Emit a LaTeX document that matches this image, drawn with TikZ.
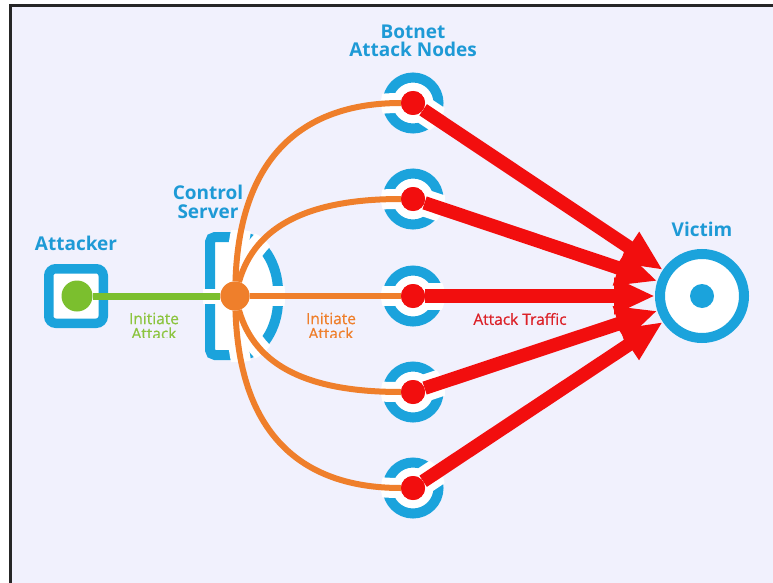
\documentclass[tikz,border=0pt]{standalone}
\usepackage{fontspec}
\setmainfont{Open Sans}
\newfontfamily\labelfont[FakeBold=0.6]{Open Sans}
\usetikzlibrary{arrows.meta}

\definecolor{bg}{HTML}{F1F1FD}
\definecolor{netblue}{HTML}{1BA3DC}
\definecolor{txtblue}{HTML}{1E9AD6}
\definecolor{dotgreen}{HTML}{7BBF2E}
\definecolor{txtgreen}{HTML}{8CC43F}
\definecolor{ctrlorange}{HTML}{EF7F2B}
\definecolor{hitred}{HTML}{F20E0E}
\definecolor{txtred}{HTML}{DC2128}

\tikzset{
  ring/.style={circle, draw=netblue, line width=10pt, fill=white, minimum size=51pt, inner sep=0pt},
  reddot/.style={circle, fill=hitred, minimum size=24pt, inner sep=0pt},
  hubdot/.style={circle, fill=ctrlorange, minimum size=29pt, inner sep=0pt},
  srcdot/.style={circle, fill=dotgreen, minimum size=31pt, inner sep=0pt},
  srcbox/.style={rectangle, rounded corners=7pt, draw=netblue, line width=9.5pt, fill=white, minimum size=54.5pt, inner sep=0pt},
  target/.style={circle, draw=netblue, line width=10pt, fill=white, minimum size=84pt, inner sep=0pt},
  targetcore/.style={circle, fill=netblue, minimum size=24pt, inner sep=0pt},
  link/.style={draw=ctrlorange, line width=6pt},
  linkhalo/.style={draw=white, line width=20pt},
  feed/.style={draw=dotgreen, line width=7pt},
  feedhalo/.style={draw=white, line width=15pt},
  hit/.style={draw=hitred, line width=13.5pt, -{Triangle[length=41pt,width=34pt]}},
  hithalo/.style={draw=white, line width=27pt},
  head/.style={text=txtblue, font=\bfseries\fontsize{19}{18.5}\selectfont, align=center, inner sep=0pt},
  small/.style={font=\labelfont\fontsize{15.5}{15}\selectfont, align=center, inner sep=0pt},
}

\begin{document}
\begin{tikzpicture}[x=1pt, y=-1pt]
  % page, frame and background
  \useasboundingbox (0,0) rectangle (773,583);
  \fill[white] (0,0) rectangle (773,583);
  \fill[bg] (11,6) rectangle (773,583);
  \draw[black!85, line width=2.2pt] (10.5,583) -- (10.5,5.5) -- (773,5.5);

  % positions
  \coordinate (cs) at (235,296);

  % attacker
  \node[srcbox] (abox) at (76,296) {};
  \node[srcdot] (ga) at (77,296) {};

  % control server body
  \path[draw=netblue, line width=10pt, fill=white, rounded corners=5pt]
    (210,237) -- (236,237) .. controls (262,237) and (278,265) .. (278,296)
    .. controls (278,327) and (262,355) .. (236,355) -- (210,355) -- cycle;

  % botnet rings and victim
  \foreach \i/\y in {1/103, 2/199, 3/296, 4/392, 5/488} {
    \node[ring] (r\i) at (413,\y) {};
  }
  \node[target] (vic) at (702,296) {};

  % anchors for the links (drawn later)
  \node[hubdot] (hub) at (cs) {};
  \foreach \i/\y in {1/103, 2/199, 3/296, 4/392, 5/488} {
    \node[reddot] (b\i) at (413,\y) {};
  }

  % cut-outs where the links cross the rings
  \begin{scope}
    \clip (203,230) -- (240,230) .. controls (268,230) and (285,262) .. (285,296)
      .. controls (285,330) and (268,362) .. (240,362) -- (203,362) -- cycle;
    \draw[feedhalo] (ga) -- (hub);
    \draw[linkhalo] (hub) .. controls (240,140) and (320,103) .. (b1);
    \draw[linkhalo] (hub) .. controls (255,225) and (310,199) .. (b2);
    \draw[linkhalo] (hub) -- (b3);
    \draw[linkhalo] (hub) .. controls (255,367) and (310,392) .. (b4);
    \draw[linkhalo] (hub) .. controls (240,452) and (320,488) .. (b5);
  \end{scope}
  \begin{scope}
    \clip (413,103) circle[radius=32];
    \draw[linkhalo] (hub) .. controls (240,140) and (320,103) .. (b1);
    \draw[hithalo] (b1) -- (vic);
  \end{scope}
  \begin{scope}
    \clip (413,199) circle[radius=32];
    \draw[linkhalo] (hub) .. controls (255,225) and (310,199) .. (b2);
    \draw[hithalo] (b2) -- (vic);
  \end{scope}
  \begin{scope}
    \clip (413,296) circle[radius=32];
    \draw[linkhalo] (hub) -- (b3);
    \draw[hithalo] (b3) -- (vic);
  \end{scope}
  \begin{scope}
    \clip (413,392) circle[radius=32];
    \draw[linkhalo] (hub) .. controls (255,367) and (310,392) .. (b4);
    \draw[hithalo] (b4) -- (vic);
  \end{scope}
  \begin{scope}
    \clip (413,488) circle[radius=32];
    \draw[linkhalo] (hub) .. controls (240,452) and (320,488) .. (b5);
    \draw[hithalo] (b5) -- (vic);
  \end{scope}

  % links
  \draw[feed] (ga) -- (hub);
  \draw[link] (hub) .. controls (240,140) and (320,103) .. (b1);
  \draw[link] (hub) .. controls (255,225) and (310,199) .. (b2);
  \draw[link] (hub) -- (b3);
  \draw[link] (hub) .. controls (255,367) and (310,392) .. (b4);
  \draw[link] (hub) .. controls (240,452) and (320,488) .. (b5);

  % attack traffic
  \foreach \i in {1,...,5} {
    \draw[hit] (b\i) -- (vic);
  }

  % dots on top
  \node[hubdot] at (cs) {};
  \foreach \i/\y in {1/103, 2/199, 3/296, 4/392, 5/488} {
    \node[reddot] at (413,\y) {};
  }
  \node[targetcore] (core) at (vic) {};

  % headings
  \node[head] (tBot) at (413,41) {Botnet\\Attack Nodes};
  \node[head] (tCtl) at (208,202) {Control\\Server};
  \node[head] (tAtt) at (76,243) {Attacker};
  \node[head] (tVic) at (702,229) {Victim};

  % link labels, cut off at the bottom
  \begin{scope}
    \clip (100,305) rectangle (380,337);
    \node[small, text=txtgreen] (lGreen) at (154,326) {Initiate\\Attack};
    \node[small, text=ctrlorange] (lOrange) at (331,326) {Initiate\\Attack};
  \end{scope}
  \node[small, text=txtred] (lRed) at (520,319) {Attack Traffic};
\end{tikzpicture}
\end{document}
